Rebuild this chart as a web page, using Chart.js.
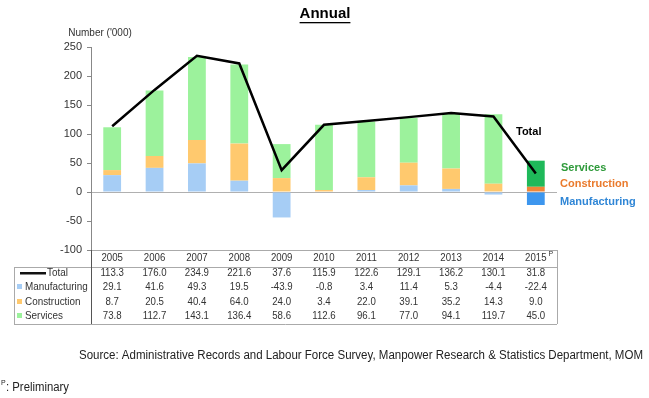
<!DOCTYPE html>
<html>
<head>
  <title>Annual</title>
  <script src="https://cdn.jsdelivr.net/npm/chart.js"></script>
  <style>
    body { margin: 0; background: #fff; }
    #chart { position: absolute; left: 0; top: 0; }
  </style>
</head>
<body>
  <canvas id="chart" width="649" height="398"></canvas>
  <script>
    const years = ['2005', '2006', '2007', '2008', '2009', '2010', '2011', '2012', '2013', '2014', '2015'];
    const total = [113.3, 176.0, 234.9, 221.6, 37.6, 115.9, 122.6, 129.1, 136.2, 130.1, 31.8];
    const manufacturing = [29.1, 41.6, 49.3, 19.5, -43.9, -0.8, 3.4, 11.4, 5.3, -4.4, -22.4];
    const construction = [8.7, 20.5, 40.4, 64.0, 24.0, 3.4, 22.0, 39.1, 35.2, 14.3, 9.0];
    const services = [73.8, 112.7, 143.1, 136.4, 58.6, 112.6, 96.1, 77.0, 94.1, 119.7, 45.0];
    const yTicks = [-100, -50, 0, 50, 100, 150, 200, 250];

    const FONT = '"Liberation Sans", Arial, sans-serif';
    const light = { man: '#a6cdf5', con: '#ffc96e', ser: '#9cf29c' };
    const dark = { man: '#3d96ee', con: '#ef8638', ser: '#1fb95a' };
    // the 2015 (preliminary) bar is drawn in darker colours
    const colours = key => years.map((y, i) => i === years.length - 1 ? dark[key] : light[key]);

    // narrow text, the original uses a condensed face
    function narrow(ctx, txt, x, y, sx) {
      ctx.save();
      ctx.translate(x, y);
      ctx.scale(sx, 1);
      ctx.fillText(txt, 0, 0);
      ctx.restore();
    }

    const tablePlugin = {
      id: 'tablePlugin',
      afterDraw(chart) {
        const ctx = chart.ctx;
        const x = chart.scales.x;
        const area = chart.chartArea;
        ctx.save();

        // title
        ctx.fillStyle = '#000';
        ctx.font = 'bold 15px ' + FONT;
        ctx.textAlign = 'center';
        ctx.textBaseline = 'middle';
        ctx.fillText('Annual', 325, 14);
        const tw = ctx.measureText('Annual').width;
        ctx.fillRect(325 - tw / 2, 22, tw, 1.3);

        // axis title
        ctx.font = '10px ' + FONT;
        ctx.fillStyle = '#333';
        ctx.fillText("Number ('000)", 100, 33);

        // series labels beside 2015
        ctx.font = 'bold 11px ' + FONT;
        ctx.textAlign = 'left';
        ctx.fillStyle = '#000';
        ctx.fillText('Total', 516, 132);
        ctx.fillStyle = '#2e9a3a';
        ctx.fillText('Services', 561, 168);
        ctx.fillStyle = '#ea7a2c';
        ctx.fillText('Construction', 560, 184);
        ctx.fillStyle = '#2f86d6';
        ctx.fillText('Manufacturing', 560, 202);

        // table lines
        const left = 14, bot = 324, headTop = area.bottom, rowTop = 267;
        ctx.strokeStyle = '#aaa';
        ctx.lineWidth = 1;
        ctx.beginPath();
        ctx.moveTo(area.left, headTop + 0.5); ctx.lineTo(area.right, headTop + 0.5);
        ctx.moveTo(left, rowTop + 0.5); ctx.lineTo(area.right, rowTop + 0.5);
        ctx.moveTo(left + 0.5, rowTop); ctx.lineTo(left + 0.5, bot);
        ctx.moveTo(left, bot + 0.5); ctx.lineTo(area.right, bot + 0.5);
        ctx.moveTo(area.right + 0.5, headTop); ctx.lineTo(area.right + 0.5, bot);
        ctx.stroke();
        ctx.strokeStyle = '#555';
        ctx.beginPath();
        ctx.moveTo(area.left + 0.5, headTop); ctx.lineTo(area.left + 0.5, bot);
        ctx.stroke();

        // header years
        ctx.font = '11.5px ' + FONT;
        ctx.fillStyle = '#333';
        ctx.textAlign = 'center';
        years.forEach((y, i) => {
          const cx = x.getPixelForValue(i);
          narrow(ctx, y, cx, 258, 0.84);
          if (i === years.length - 1) {
            ctx.font = '7px ' + FONT;
            ctx.fillText('P', cx + 15, 254);
            ctx.font = '11.5px ' + FONT;
          }
        });

        // rows
        const rows = [
          { name: 'Total', data: total, y: 273 },
          { name: 'Manufacturing', data: manufacturing, y: 287, c: light.man },
          { name: 'Construction', data: construction, y: 302, c: light.con },
          { name: 'Services', data: services, y: 316, c: light.ser }
        ];
        rows.forEach(r => {
          ctx.textAlign = 'left';
          if (r.c) {
            ctx.fillStyle = r.c;
            ctx.fillRect(17, r.y - 3, 5, 5);
            ctx.fillStyle = '#333';
            narrow(ctx, r.name, 25, r.y, 0.86);
          } else {
            ctx.fillStyle = '#111';
            ctx.fillRect(20, r.y - 1, 26, 2.5);
            ctx.fillStyle = '#333';
            narrow(ctx, r.name, 47, r.y, 0.86);
          }
          ctx.textAlign = 'center';
          r.data.forEach((v, i) => {
            narrow(ctx, v.toFixed(1), x.getPixelForValue(i), r.y, 0.84);
          });
        });

        // footnotes
        ctx.textAlign = 'left';
        ctx.font = '12px ' + FONT;
        ctx.fillStyle = '#222';
        const src = 'Source: Administrative Records and Labour Force Survey, Manpower Research & Statistics Department, MOM';
        narrow(ctx, src, 79, 356, 564 / ctx.measureText(src).width);
        ctx.font = '7px ' + FONT;
        ctx.fillText('P', 1, 383);
        ctx.font = '12px ' + FONT;
        narrow(ctx, ': Preliminary', 6, 388, 63 / ctx.measureText(': Preliminary').width);
        ctx.restore();
      }
    };

    new Chart(document.getElementById('chart'), {
      data: {
        labels: years,
        datasets: [
          { type: 'line', label: 'Total', data: total, borderColor: '#000', borderWidth: 2.5,
            pointRadius: 0, tension: 0, stack: 'total', order: 0 },
          { type: 'bar', label: 'Manufacturing', data: manufacturing, backgroundColor: colours('man'), stack: 's', order: 1 },
          { type: 'bar', label: 'Construction', data: construction, backgroundColor: colours('con'), stack: 's', order: 1 },
          { type: 'bar', label: 'Services', data: services, backgroundColor: colours('ser'), stack: 's', order: 1 }
        ]
      },
      options: {
        responsive: false,
        animation: false,
        layout: { padding: { left: 0, top: 47, right: 92, bottom: 148 } },
        datasets: { bar: { barPercentage: 0.42, categoryPercentage: 1 } },
        plugins: { legend: { display: false }, tooltip: { enabled: false } },
        scales: {
          x: { display: false, stacked: true },
          y: {
            stacked: true,
            min: -100, max: 250,
            afterFit: s => { s.width = 91; },
            afterBuildTicks: s => { s.ticks = yTicks.map(v => ({ value: v })); },
            border: { display: true, color: '#888' },
            grid: {
              drawOnChartArea: true,
              color: c => c.tick && c.tick.value === 0 ? '#b0b0b0' : 'rgba(0,0,0,0)',
              tickColor: '#888',
              tickLength: 4
            },
            ticks: { padding: 5, color: '#333', font: { family: FONT, size: 11 } }
          }
        }
      },
      plugins: [tablePlugin]
    });
  </script>
</body>
</html>
